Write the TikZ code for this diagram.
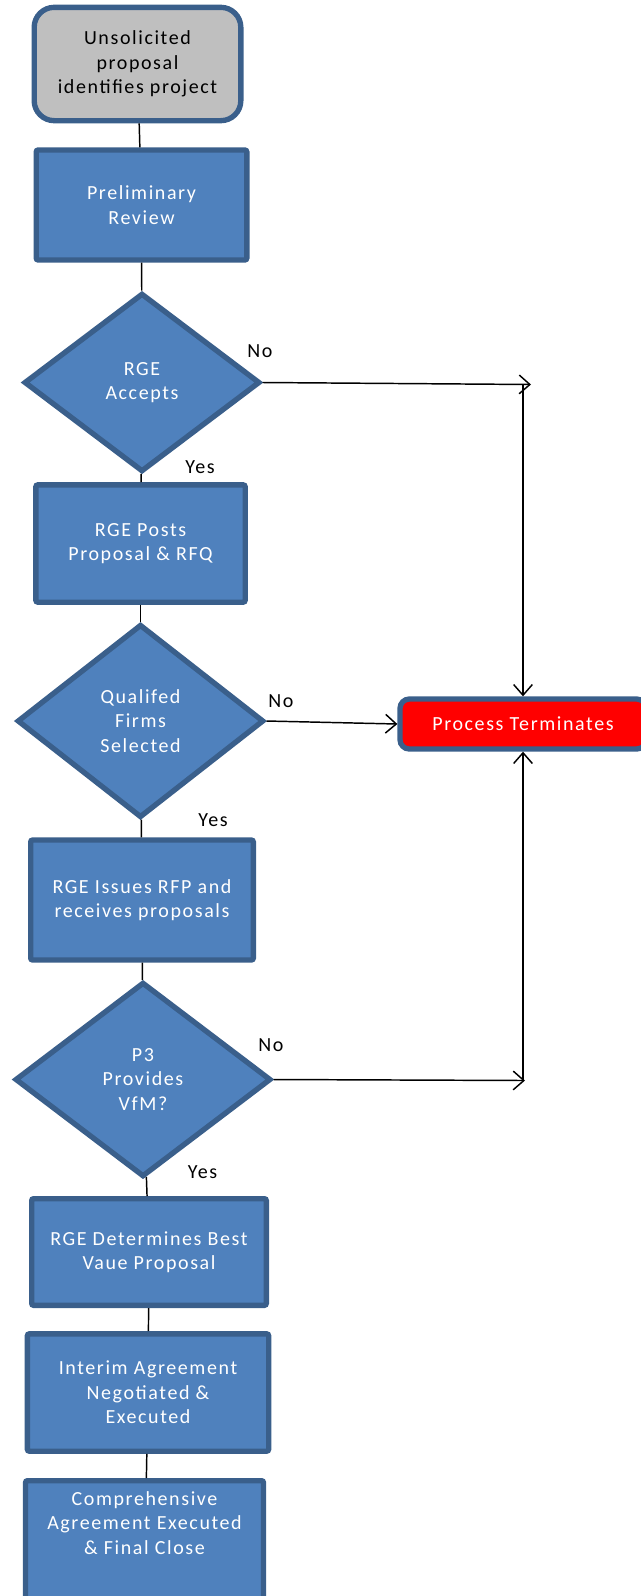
\documentclass[tikz,border=0pt]{standalone}
\usepackage{fontspec}
\setmainfont{Carlito}[LetterSpace=8]
\usetikzlibrary{shapes.geometric,arrows.meta}
\definecolor{bleu}{HTML}{4F81BD}
\definecolor{bord}{HTML}{3A5F8B}
\definecolor{gris}{HTML}{BFBFBF}
\begin{document}
\begin{tikzpicture}[x=0.75pt,y=-0.75pt]
\tikzset{boite/.style={draw=bord, fill=bleu, line width=4pt, rounded corners=1.5pt, text=white, align=center, font=\fontsize{15}{18.3}\selectfont},
losange/.style={boite, diamond, rounded corners=0pt, inner sep=0pt},
etiq/.style={font=\fontsize{15}{18.3}\selectfont},
fleche/.style={-{Straight Barb[length=8pt,width=14pt]}, line width=1.1pt},
trait/.style={line width=1.1pt}}
\useasboundingbox (0,0) rectangle (641,1596);
\node[boite, fill=gris, text=black, rounded corners=15pt, minimum width=155pt, minimum height=85pt] (Start) at (137.5,64) {Unsolicited\\proposal\\identifies project};
\node[boite, minimum width=158pt, minimum height=82.5pt] (Review) at (141.5,205) {Preliminary\\Review};
\node[losange, minimum width=177pt, minimum height=134pt] (Accept) at (142,382.5) {RGE\\Accepts};
\node[boite, minimum width=157pt, minimum height=88pt] (Posts) at (140.5,543.5) {RGE Posts\\Proposal \& RFQ};
\node[losange, minimum width=185pt, minimum height=145pt] (Firms) at (140.5,721) {Qualifed\\Firms\\Selected};
\node[boite, minimum width=167pt, minimum height=90pt] (Issues) at (142,900) {RGE Issues RFP and\\receives proposals};
\node[losange, minimum width=192pt, minimum height=146pt] (VfM) at (143,1079.5) {P3\\Provides\\VfM?};
\node[boite, minimum width=176pt, minimum height=80pt] (Best) at (149,1252) {RGE Determines Best\\Vaue Proposal};
\node[boite, minimum width=181pt, minimum height=88pt] (Interim) at (148,1392.5) {Interim Agreement\\Negotiated \&\\Executed};
\node[boite, minimum width=178.5pt, anchor=north, inner ysep=8pt, text depth=80pt] (Final) at (144.5,1478) {Comprehensive\\Agreement Executed\\\& Final Close};
\node[boite, fill=red, rounded corners=7pt, minimum width=184.5pt, minimum height=37.5pt] (Stop) at (523,724) {Process Terminates};
\node[etiq] (No1) at (260,351) {No};
\node[etiq] (Yes1) at (200,467) {Yes};
\node[etiq] (No2) at (281,701) {No};
\node[etiq] (Yes2) at (213,820) {Yes};
\node[etiq] (No3) at (271,1045) {No};
\node[etiq] (Yes3) at (202.5,1172) {Yes};
\coordinate (A1) at (531,384.5);
\coordinate (J1) at (523,384.5);
\coordinate (A3) at (525,1080.5);
\coordinate (J3) at (523,1080.5);
\draw[trait] (Start) -- (Review);
\draw[trait] (Review) -- (Accept);
\draw[trait] (Accept) -- (Posts);
\draw[trait] (Posts) -- (Firms);
\draw[trait] (Firms) -- (Issues);
\draw[trait] (Issues) -- (VfM);
\draw[trait] (VfM) -- (Best);
\draw[trait] (Best) -- (Interim);
\draw[trait] (Interim) -- (Final);
\draw[fleche] (Accept.east) -- (A1);
\draw[fleche] (J1) -- (Stop.north);
\draw[fleche] (Firms.east) -- (Stop.west);
\draw[fleche] (VfM.east) -- (A3);
\draw[fleche] (J3) -- (Stop.south);
\end{tikzpicture}
\end{document}
